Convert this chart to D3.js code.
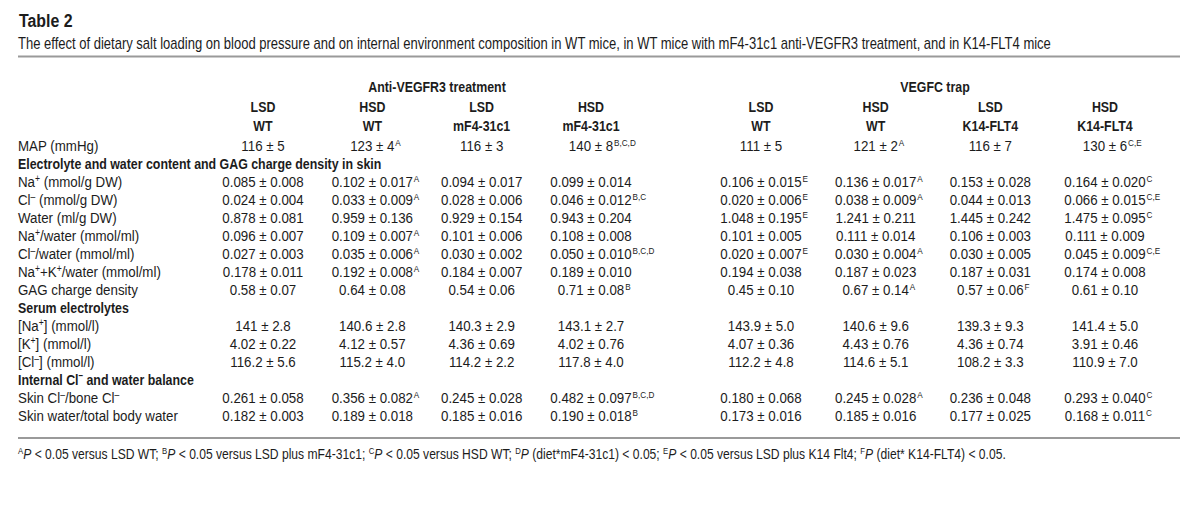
<!DOCTYPE html>
<html>
<head>
<meta charset="utf-8">
<script src="https://cdn.jsdelivr.net/npm/d3@7/dist/d3.min.js"></script>
<style>
  html, body { margin: 0; padding: 0; background: #fff; }
  svg { display: block; }
  text { font-family: "Liberation Sans", Arial, Helvetica, sans-serif; fill: #1c1c1c; }
</style>
</head>
<body>
<svg id="chart" width="1200" height="520"></svg>
<script>
// ---------- DATA ----------
const tableTitle = "Table 2";
const tableSubtitle = "The effect of dietary salt loading on blood pressure and on internal environment composition in WT mice, in WT mice with mF4-31c1 anti-VEGFR3 treatment, and in K14-FLT4 mice";

const groupLabels = ["Anti-VEGFR3 treatment", "VEGFC trap"];
const dietLabels = ["LSD", "HSD", "LSD", "HSD", "LSD", "HSD", "LSD", "HSD"];
const strainLabels = ["WT", "WT", "mF4-31c1", "mF4-31c1", "WT", "WT", "K14-FLT4", "K14-FLT4"];

// row labels; "section" rows are bold headings without values. ^{x} = superscript
const rowLabels = [
  "MAP (mmHg)",
  "Electrolyte and water content and GAG charge density in skin",
  "Na^{+} (mmol/g DW)",
  "Cl^{–} (mmol/g DW)",
  "Water (ml/g DW)",
  "Na^{+}/water (mmol/ml)",
  "Cl^{–}/water (mmol/ml)",
  "Na^{+}+K^{+}/water (mmol/ml)",
  "GAG charge density",
  "Serum electrolytes",
  "[Na^{+}] (mmol/l)",
  "[K^{+}] (mmol/l)",
  "[Cl^{–}] (mmol/l)",
  "Internal Cl^{–} and water balance",
  "Skin Cl^{–}/bone Cl^{–}",
  "Skin water/total body water"
];
const rowIsSection = [false, true, false, false, false, false, false, false, false, true, false, false, false, true, false, false];

// cell values "mean ± sd|significance letters" (null for section rows)
const lsdWT = ["116 ± 5", null, "0.085 ± 0.008", "0.024 ± 0.004", "0.878 ± 0.081", "0.096 ± 0.007", "0.027 ± 0.003", "0.178 ± 0.011", "0.58 ± 0.07", null, "141 ± 2.8", "4.02 ± 0.22", "116.2 ± 5.6", null, "0.261 ± 0.058", "0.182 ± 0.003"];
const hsdWT = ["123 ± 4|A", null, "0.102 ± 0.017|A", "0.033 ± 0.009|A", "0.959 ± 0.136", "0.109 ± 0.007|A", "0.035 ± 0.006|A", "0.192 ± 0.008|A", "0.64 ± 0.08", null, "140.6 ± 2.8", "4.12 ± 0.57", "115.2 ± 4.0", null, "0.356 ± 0.082|A", "0.189 ± 0.018"];
const lsdMF4 = ["116 ± 3", null, "0.094 ± 0.017", "0.028 ± 0.006", "0.929 ± 0.154", "0.101 ± 0.006", "0.030 ± 0.002", "0.184 ± 0.007", "0.54 ± 0.06", null, "140.3 ± 2.9", "4.36 ± 0.69", "114.2 ± 2.2", null, "0.245 ± 0.028", "0.185 ± 0.016"];
const hsdMF4 = ["140 ± 8|B,C,D", null, "0.099 ± 0.014", "0.046 ± 0.012|B,C", "0.943 ± 0.204", "0.108 ± 0.008", "0.050 ± 0.010|B,C,D", "0.189 ± 0.010", "0.71 ± 0.08|B", null, "143.1 ± 2.7", "4.02 ± 0.76", "117.8 ± 4.0", null, "0.482 ± 0.097|B,C,D", "0.190 ± 0.018|B"];
const lsdWT2 = ["111 ± 5", null, "0.106 ± 0.015|E", "0.020 ± 0.006|E", "1.048 ± 0.195|E", "0.101 ± 0.005", "0.020 ± 0.007|E", "0.194 ± 0.038", "0.45 ± 0.10", null, "143.9 ± 5.0", "4.07 ± 0.36", "112.2 ± 4.8", null, "0.180 ± 0.068", "0.173 ± 0.016"];
const hsdWT2 = ["121 ± 2|A", null, "0.136 ± 0.017|A", "0.038 ± 0.009|A", "1.241 ± 0.211", "0.111 ± 0.014", "0.030 ± 0.004|A", "0.187 ± 0.023", "0.67 ± 0.14|A", null, "140.6 ± 9.6", "4.43 ± 0.76", "114.6 ± 5.1", null, "0.245 ± 0.028|A", "0.185 ± 0.016"];
const lsdK14 = ["116 ± 7", null, "0.153 ± 0.028", "0.044 ± 0.013", "1.445 ± 0.242", "0.106 ± 0.003", "0.030 ± 0.005", "0.187 ± 0.031", "0.57 ± 0.06|F", null, "139.3 ± 9.3", "4.36 ± 0.74", "108.2 ± 3.3", null, "0.236 ± 0.048", "0.177 ± 0.025"];
const hsdK14 = ["130 ± 6|C,E", null, "0.164 ± 0.020|C", "0.066 ± 0.015|C,E", "1.475 ± 0.095|C", "0.111 ± 0.009", "0.045 ± 0.009|C,E", "0.174 ± 0.008", "0.61 ± 0.10", null, "141.4 ± 5.0", "3.91 ± 0.46", "110.9 ± 7.0", null, "0.293 ± 0.040|C", "0.168 ± 0.011|C"];

const footnote = "^{A}*P* < 0.05 versus LSD WT; ^{B}*P* < 0.05 versus LSD plus mF4-31c1; ^{C}*P* < 0.05 versus HSD WT; ^{D}*P* (diet*mF4-31c1) < 0.05; ^{E}*P* < 0.05 versus LSD plus K14 Flt4; ^{F}*P* (diet* K14-FLT4) < 0.05.";

// ---------- LAYOUT ----------
const columns = [lsdWT, hsdWT, lsdMF4, hsdMF4, lsdWT2, hsdWT2, lsdK14, hsdK14];
const svg = d3.select("#chart");
const left = 18, right = 1180;

// condensed-face emulation: each text style lives in a group squeezed horizontally
function layer(sx) {
  const g = svg.append("g").attr("transform", `scale(${sx},1)`);
  g.X = v => v / sx;
  return g;
}
const gTitle = layer(0.86);
const gSub = layer(0.766);
const gBold = layer(0.80);
const gLab = layer(0.86);
const gData = layer(0.86);
const gFoot = layer(0.865);

const xA = d3.scalePoint().domain([0, 1, 2, 3]).range([263, 591]);
const xB = d3.scalePoint().domain([4, 5, 6, 7]).range([761, 1105]);
const colX = i => (i < 4 ? xA(i) : xB(i));
const y = d3.scalePoint().domain(d3.range(rowLabels.length)).range([151, 421]);

// rich text helper: ^{..} superscript, *P* italic
function rich(sel, str, supSize) {
  const parts = str.split(/(\^\{[^}]*\}|\*P\*)/).filter(s => s.length);
  parts.forEach(p => {
    if (p.startsWith("^{")) {
      sel.append("tspan").attr("font-size", supSize).attr("baseline-shift", "super").text(p.slice(2, -1));
    } else if (p === "*P*") {
      sel.append("tspan").attr("font-style", "italic").text("P");
    } else {
      sel.append("tspan").text(p);
    }
  });
}

// Title & subtitle
gTitle.append("text").attr("x", gTitle.X(left + 1)).attr("y", 27).attr("font-size", 18.5).attr("font-weight", "bold").text(tableTitle);
gSub.append("text").attr("x", gSub.X(left)).attr("y", 49).attr("font-size", 17).text(tableSubtitle);

// top rule
svg.append("line").attr("x1", left).attr("x2", right).attr("y1", 56.5).attr("y2", 56.5)
  .attr("stroke", "#9a9a9a").attr("stroke-width", 2);

// group headers
const groupCenters = [437, 935];
gBold.selectAll("text.group").data(groupLabels).join("text").attr("class", "group")
  .attr("x", (d, i) => gBold.X(groupCenters[i])).attr("y", 92)
  .attr("text-anchor", "middle").attr("font-size", 15.5).attr("font-weight", "bold").text(d => d);

gBold.selectAll("text.diet").data(dietLabels).join("text").attr("class", "diet")
  .attr("x", (d, i) => gBold.X(colX(i))).attr("y", 112)
  .attr("text-anchor", "middle").attr("font-size", 15.5).attr("font-weight", "bold").text(d => d);
gBold.selectAll("text.strain").data(strainLabels).join("text").attr("class", "strain")
  .attr("x", (d, i) => gBold.X(colX(i))).attr("y", 131)
  .attr("text-anchor", "middle").attr("font-size", 15.5).attr("font-weight", "bold").text(d => d);

// row labels (section headings bold)
rowLabels.forEach((lab, i) => {
  const g = rowIsSection[i] ? gBold : gLab;
  g.append("text").attr("class", "rowlab")
    .attr("x", g.X(left)).attr("y", y(i))
    .attr("font-size", 15.5).attr("font-weight", rowIsSection[i] ? "bold" : "normal")
    .call(t => rich(t, lab, 10));
});

// cells
columns.forEach((col, ci) => {
  const cells = col.map((v, ri) => ({ v, ri })).filter(c => c.v);
  const cx = gData.X(colX(ci));
  gData.selectAll(null).data(cells).join("text").attr("class", "main")
    .attr("x", cx).attr("y", d => y(d.ri))
    .attr("text-anchor", "middle").attr("font-size", 15.5)
    .text(d => d.v.split("|")[0])
    .each(function (d) {
      const sig = d.v.split("|")[1];
      if (sig) {
        const w = this.getComputedTextLength();
        gData.append("text").attr("x", cx + w / 2 + 1).attr("y", y(d.ri) - 5)
          .attr("font-size", 9.5).text(sig);
      }
    });
});

// bottom rule
svg.append("line").attr("x1", left).attr("x2", right).attr("y1", 438).attr("y2", 438)
  .attr("stroke", "#9a9a9a").attr("stroke-width", 2);

// footnote
gFoot.append("text").attr("x", gFoot.X(left)).attr("y", 459).attr("font-size", 14)
  .call(t => rich(t, footnote, 9));
</script>
</body>
</html>
